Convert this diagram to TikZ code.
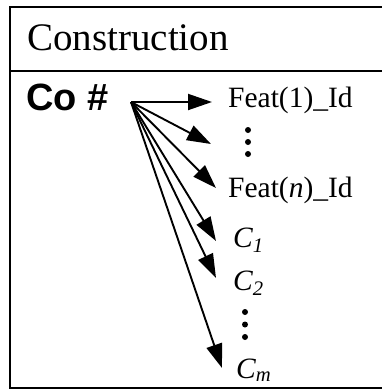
\documentclass[tikz,border=0pt]{standalone}
\usepackage{fontspec}
\setmainfont{Liberation Serif}
\newfontfamily\arialfont{Liberation Sans}
\usetikzlibrary{arrows.meta}
\begin{document}
\begin{tikzpicture}[x=1pt,y=-1pt,
  frame/.style={line width=2pt},
  conn/.style={line width=1.9pt,-{Triangle[length=24pt,width=16pt]}},
  lab/.style={inner sep=0pt,anchor=base west,font=\fontsize{29.5}{33}\selectfont},
  dotmark/.style={fill=black,circle,inner sep=0pt,minimum size=6pt}]
\useasboundingbox (0,0) rectangle (382,392);
\draw[frame] (10,7) rectangle (400,388);
\draw[frame] (10,71) -- (400,71);
\node[inner sep=0pt,anchor=base west,font=\fontsize{39}{44}\selectfont] (title) at (27,50) {Construction};
\node[inner sep=0pt,anchor=base west,font=\arialfont\bfseries\fontsize{38}{40}\selectfont] (co) at (26,110) {Co \#};
\coordinate (o) at (131,102);
\node[lab] (f1) at (228,107) {Feat(1)\_Id};
\node[lab] (fn) at (228,197) {Feat(\textit{n})\_Id};
\node[lab] (c1) at (233,247) {\textit{C\textsubscript{1}}};
\node[lab] (c2) at (233,290) {\textit{C\textsubscript{2}}};
\node[lab] (cm) at (236,378) {\textit{C\textsubscript{m}}};
\node[dotmark] (d11) at (248,130) {};
\node[dotmark] (d12) at (248,142) {};
\node[dotmark] (d13) at (248,154) {};
\node[dotmark] (d21) at (245,312) {};
\node[dotmark] (d22) at (245,324.5) {};
\node[dotmark] (d23) at (245,337) {};
\coordinate (t1) at (212,102);
\coordinate (t2) at (211,144);
\coordinate (t3) at (216,188);
\coordinate (t4) at (216,241);
\coordinate (t5) at (216,278);
\coordinate (t6) at (222,368);
\foreach \t in {t1,t2,t3,t4,t5,t6} \draw[conn] (o) -- (\t);
\end{tikzpicture}
\end{document}
